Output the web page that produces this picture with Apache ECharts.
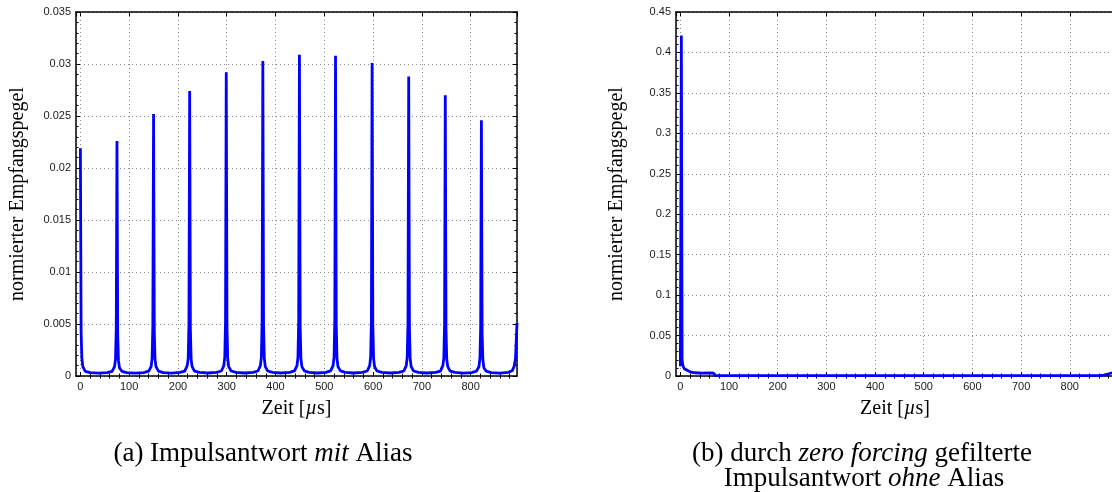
<!DOCTYPE html>
<html>
<head>
<meta charset="utf-8">
<script src="https://cdn.jsdelivr.net/npm/echarts@6/dist/echarts.min.js"></script>
<style>
  html, body { margin: 0; padding: 0; background: #fff; overflow: hidden; }
  #chart { width: 1112px; height: 492px; }
</style>
</head>
<body>
<div id="chart"></div>
<script>
// (a) impulse response with alias: sample times in µs and normalized received level
const timeA = [
  0, 1.5, 3, 5, 10, 20, 37,
  55, 65, 70, 72, 73.5, 75, 76.5, 78, 80, 85, 95, 112,
  130, 140, 145, 147, 148.5, 150, 151.5, 153, 155, 160, 170, 187,
  204, 214, 219, 221, 222.5, 224, 225.5, 227, 229, 234, 244, 261,
  279, 289, 294, 296, 297.5, 299, 300.5, 302, 304, 309, 319, 336,
  354, 364, 369, 371, 372.5, 374, 375.5, 377, 379, 384, 394, 411,
  429, 439, 444, 446, 447.5, 449, 450.5, 452, 454, 459, 469, 486,
  503, 513, 518, 520, 521.5, 523, 524.5, 526, 528, 533, 543, 560,
  578, 588, 593, 595, 596.5, 598, 599.5, 601, 603, 608, 618, 635,
  653, 663, 668, 670, 671.5, 673, 674.5, 676, 678, 683, 693, 710,
  728, 738, 743, 745, 746.5, 748, 749.5, 751, 753, 758, 768, 785,
  802, 812, 817, 819, 820.5, 822, 823.5, 825, 827, 832, 842, 859,
  877, 885, 889, 892, 895
];
const levelA = [
  0.0219, 0.0042, 0.0017, 0.0009, 0.00045, 0.00032, 0.00028,
  0.00033, 0.00045, 0.0009, 0.0016, 0.0045, 0.0226, 0.0040, 0.0015, 0.0008, 0.00045, 0.00032, 0.00028,
  0.00033, 0.00046, 0.0009, 0.0017, 0.0048, 0.0252, 0.0043, 0.0016, 0.0009, 0.00046, 0.00033, 0.00028,
  0.00034, 0.00047, 0.0010, 0.0017, 0.0050, 0.0274, 0.0045, 0.0016, 0.0009, 0.00047, 0.00034, 0.00029,
  0.00034, 0.00048, 0.0010, 0.0018, 0.0052, 0.0292, 0.0047, 0.0017, 0.0009, 0.00048, 0.00034, 0.00029,
  0.00035, 0.00048, 0.0010, 0.0018, 0.0053, 0.0303, 0.0048, 0.0017, 0.0009, 0.00048, 0.00035, 0.00029,
  0.00035, 0.00049, 0.0010, 0.0018, 0.0054, 0.0309, 0.0049, 0.0017, 0.0009, 0.00049, 0.00035, 0.00029,
  0.00035, 0.00049, 0.0010, 0.0018, 0.0054, 0.0308, 0.0049, 0.0017, 0.0009, 0.00049, 0.00035, 0.00029,
  0.00035, 0.00048, 0.0010, 0.0018, 0.0053, 0.0301, 0.0048, 0.0017, 0.0009, 0.00048, 0.00035, 0.00029,
  0.00034, 0.00048, 0.0010, 0.0018, 0.0051, 0.0288, 0.0046, 0.0017, 0.0009, 0.00048, 0.00034, 0.00029,
  0.00034, 0.00047, 0.0010, 0.0017, 0.0049, 0.0270, 0.0044, 0.0016, 0.0009, 0.00047, 0.00034, 0.00028,
  0.00033, 0.00046, 0.0009, 0.0017, 0.0046, 0.0246, 0.0041, 0.0016, 0.0008, 0.00046, 0.00033, 0.00028,
  0.00035, 0.0005, 0.0009, 0.0017, 0.0051
];

// (b) zero-forcing filtered impulse response without alias
const timeB  = [0, 2, 3.5, 5, 8, 12, 20, 30, 45, 60, 68, 72, 80, 150, 300, 450, 600, 750, 860, 870, 880, 888, 895];
const levelB = [0.012, 0.421, 0.02, 0.013, 0.009, 0.0072, 0.0052, 0.0040, 0.0036, 0.0038, 0.0035, 0.0006,
                0.0004, 0.0004, 0.0004, 0.0004, 0.0004, 0.0004, 0.0005, 0.0012, 0.0028, 0.0041, 0.0046];

// time axis limits and the 20 µs minor ticks between labelled hundreds
const timeMin = -9, timeMax = 895;
const minorTimeTicks = [
  20, 40, 60, 80, 120, 140, 160, 180, 220, 240, 260, 280, 320, 340, 360, 380,
  420, 440, 460, 480, 520, 540, 560, 580, 620, 640, 660, 680, 720, 740, 760, 780,
  820, 840, 860, 880
];

// level axes: [max, step]
const levelAxisA = [0.035, 0.005];
const levelAxisB = [0.45, 0.05];

const xTitle = '{n|Zeit [}{i|µ}{n|s]}';
const yTitle = '{n|normierter Empfangspegel}';
const captionA = '{n|(a) Impulsantwort }{i|mit}{n| Alias}';
const captionB1 = '{n|(b) durch }{i|zero forcing}{n| gefilterte}';
const captionB2 = '{n|Impulsantwort }{i|ohne}{n| Alias}';

const tickFont = 'Liberation Sans, Arial, Helvetica, sans-serif';
const serif = 'Liberation Serif, Times New Roman, serif';
const black = '#000';
const gridLine = { show: true, lineStyle: { color: '#8c8c8c', type: [1, 3], width: 1 } };
const boxLine = { show: true, onZero: false, lineStyle: { color: black, width: 1.5 } };

function timeAxes(grid) {
  const base = { gridIndex: grid, type: 'value', min: timeMin, max: timeMax, splitNumber: 9 };
  return [
    Object.assign({}, base, {
      position: 'bottom',
      axisLine: boxLine,
      axisTick: { show: true, inside: true, length: 4, lineStyle: { color: black, width: 1 } },
      axisLabel: { show: true, margin: 5, color: '#1a1a1a', fontSize: 11, fontFamily: tickFont,
                   showMinLabel: false, showMaxLabel: false },
      splitLine: gridLine
    }),
    Object.assign({}, base, {
      position: 'top',
      axisLine: boxLine,
      axisTick: { show: true, inside: true, length: 4, lineStyle: { color: black, width: 1 } },
      axisLabel: { show: false },
      splitLine: { show: false }
    }),
    Object.assign({}, base, {
      position: 'bottom',
      axisLine: { show: false },
      axisTick: { show: true, inside: true, length: 2.5, customValues: minorTimeTicks,
                  lineStyle: { color: black, width: 1 } },
      axisLabel: { show: false },
      splitLine: { show: false }
    }),
    Object.assign({}, base, {
      position: 'top',
      axisLine: { show: false },
      axisTick: { show: true, inside: true, length: 2.5, customValues: minorTimeTicks,
                  lineStyle: { color: black, width: 1 } },
      axisLabel: { show: false },
      splitLine: { show: false }
    })
  ];
}

function levelAxes(grid, spec) {
  const base = {
    gridIndex: grid, type: 'value', min: 0, max: spec[0], interval: spec[1],
    axisLine: boxLine,
    axisTick: { show: true, inside: true, length: 4, lineStyle: { color: black, width: 1 } },
    minorTick: { show: true, splitNumber: 5, length: 2.5, lineStyle: { color: black, width: 1 } }
  };
  return [
    Object.assign({}, base, {
      position: 'left',
      axisLabel: { show: true, margin: 5, color: '#1a1a1a', fontSize: 11, fontFamily: tickFont },
      splitLine: gridLine
    }),
    Object.assign({}, base, {
      position: 'right',
      axisLabel: { show: false },
      splitLine: { show: false }
    })
  ];
}

function pairs(t, v) { return t.map((x, i) => [x, v[i]]); }

function lineSeries(xi, yi, data) {
  return {
    type: 'line', xAxisIndex: xi, yAxisIndex: yi, data: data,
    symbol: 'none', showSymbol: false, clip: true, animation: false, z: 3,
    lineStyle: { color: '#0000ff', width: 2.8, join: 'bevel' }
  };
}

function serifRich(size) {
  return {
    n: { fontFamily: serif, fontSize: size, fill: black },
    i: { fontFamily: serif, fontSize: size, fontStyle: 'italic', fill: black }
  };
}

function label(x, y, text, size, rotation) {
  return {
    type: 'text', x: x, y: y, rotation: rotation || 0, silent: true,
    style: { text: text, rich: serifRich(size), fontFamily: serif, fontSize: size,
             fill: black, align: 'center', verticalAlign: 'middle' }
  };
}

const chart = echarts.init(document.getElementById('chart'), null, { renderer: 'canvas' });
chart.setOption({
  animation: false,
  backgroundColor: '#fff',
  grid: [
    { left: 76, top: 12, width: 441, height: 364, containLabel: false, outerBoundsMode: 'none' },
    { left: 676, top: 12, width: 440, height: 364, containLabel: false, outerBoundsMode: 'none' }
  ],
  xAxis: timeAxes(0).concat(timeAxes(1)),
  yAxis: levelAxes(0, levelAxisA).concat(levelAxes(1, levelAxisB)),
  series: [
    lineSeries(0, 0, pairs(timeA, levelA)),
    lineSeries(4, 2, pairs(timeB, levelB))
  ],
  graphic: [
    label(18, 194, yTitle, 20, Math.PI / 2),
    label(617, 194, yTitle, 20, Math.PI / 2),
    label(296.5, 409, xTitle, 20),
    label(895, 409, xTitle, 20),
    label(263, 454, captionA, 27),
    label(862, 454, captionB1, 27),
    label(864, 479, captionB2, 27)
  ]
});
</script>
</body>
</html>
